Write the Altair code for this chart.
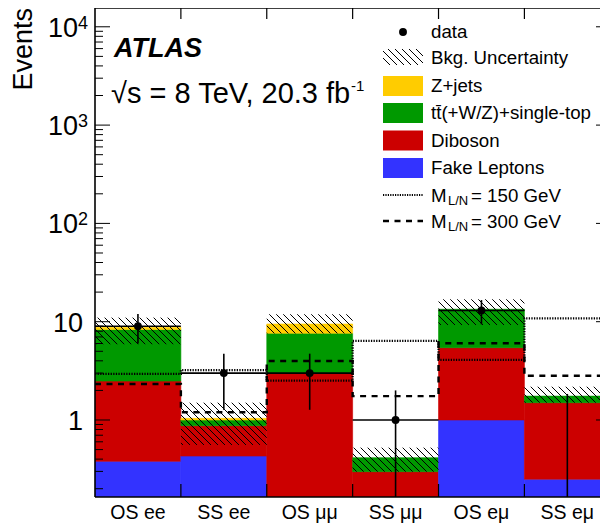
import altair as alt
import pandas as pd
import numpy as np

# ---------------- data ----------------
bins = ["OS ee", "SS ee", "OS μμ", "SS μμ", "OS eμ", "SS eμ"]
fake = [0.38, 0.43, 0.0, 0.0, 1.0, 0.25]
diboson = [2.11, 0.445, 2.98, 0.298, 4.44, 1.25]
ttbar = [5.85, 0.125, 4.64, 0.116, 7.96, 0.25]
zjets = [0.45, 0.04, 1.86, 0.0, 0.0, 0.0]
unc_lo = [5.9, 0.557, 7.6, 0.298, 9.25, 1.5]
unc_hi = [11.0, 1.5, 11.9, 0.523, 16.9, 2.18]
data = [9, 3, 3, 1, 13, 0]
data_err_up = [3.0, 1.73, 1.73, 1.0, 3.6, 1.84]
data_err_dn = [3.0, 1.73, 1.73, 1.0, 3.6, 0.0]
sig150 = [2.94, 3.22, 2.51, 6.37, 4.08, 10.8]
sig300 = [2.32, 1.2, 3.98, 1.75, 6.03, 2.82]

comp_names = ["Fake Leptons", "Diboson", "tt̄(+W/Z)+single-top", "Z+jets"]
comp_colors = ["#3333ff", "#cc0000", "#009900", "#ffcc00"]
comp_vals = [fake, diboson, ttbar, zjets]

# ---------------- geometry ----------------
W, H = 505, 489
BINPX = 85.88
XMAX = W / BINPX                    # the last bin runs past the right edge, as in the original
YMIN, YMAX = 0.1647, 15530.0
FONT = "Liberation Sans"
ppd = H / np.log10(YMAX / YMIN)     # pixels per decade
bw = BINPX

xs = alt.Scale(domain=[0, XMAX], nice=False, zero=False)
ys = alt.Scale(type="log", domain=[YMIN, YMAX], nice=False)

# ---------------- stacked histogram ----------------
rows = []
for i in range(6):
    cum = 0.0
    for name, vals in zip(comp_names, comp_vals):
        lo = cum
        cum += vals[i]
        if vals[i] > 0:
            rows.append(dict(x0=i, x1=i + 1, y0=max(lo, YMIN), y1=cum, comp=name))
stack_df = pd.DataFrame(rows)
cscale = alt.Scale(domain=comp_names, range=comp_colors)
stack = alt.Chart(stack_df).mark_rect(strokeWidth=0.6, clip=True).encode(
    x=alt.X("x0:Q", scale=xs, axis=None),
    x2="x1:Q",
    y=alt.Y("y0:Q", scale=ys, axis=None),
    y2="y1:Q",
    color=alt.Color("comp:N", scale=cscale, legend=None),
    stroke=alt.Stroke("comp:N", scale=cscale, legend=None),
)

# ---------------- hatched uncertainty band ----------------
SP = 7.0
hrows = []
for i in range(6):
    u0, u1 = i * bw, (i + 1) * bw
    v0 = np.log10(unc_lo[i] / YMIN) * ppd
    v1 = np.log10(unc_hi[i] / YMIN) * ppd
    k0 = int(np.ceil((u0 + v0) / SP))
    k1 = int(np.floor((u1 + v1) / SP))
    for k in range(k0, k1 + 1):
        c = k * SP
        ua = max(u0, c - v1)
        ub = min(u1, c - v0)
        if ub > ua:
            hrows.append(dict(
                xa=ua / bw, xb=ub / bw,
                ya=YMIN * 10 ** ((c - ua) / ppd), yb=YMIN * 10 ** ((c - ub) / ppd)))
hatch_df = pd.DataFrame(hrows)
hatch = alt.Chart(hatch_df).mark_rule(color="black", strokeWidth=1, clip=True).encode(
    x=alt.X("xa:Q", scale=xs), x2="xb:Q",
    y=alt.Y("ya:Q", scale=ys), y2="yb:Q",
)

# ---------------- signal step lines ----------------
def step_df(vals):
    return pd.DataFrame({"x": list(range(7)), "y": list(vals) + [vals[-1]]})

sig1 = alt.Chart(step_df(sig150)).mark_line(
    interpolate="step-after", color="black", strokeWidth=2.2, strokeDash=[1.3, 1.3], clip=True
).encode(x=alt.X("x:Q", scale=xs), y=alt.Y("y:Q", scale=ys))
sig2 = alt.Chart(step_df(sig300)).mark_line(
    interpolate="step-after", color="black", strokeWidth=2.4, strokeDash=[6, 5.5], clip=True
).encode(x=alt.X("x:Q", scale=xs), y=alt.Y("y:Q", scale=ys))

# ---------------- data ----------------
d_df = pd.DataFrame({
    "xc": [i + 0.5 for i in range(6)],
    "x0": list(range(6)), "x1": [i + 1 for i in range(6)],
    "n": data,
    "lo": [max(n - e, YMIN) for n, e in zip(data, data_err_dn)],
    "hi": [n + e for n, e in zip(data, data_err_up)],
})
d_pos = d_df[d_df["n"] > 0]
d_vbar = alt.Chart(d_df).mark_rule(color="black", strokeWidth=1.6, clip=True).encode(
    x=alt.X("xc:Q", scale=xs), y=alt.Y("lo:Q", scale=ys), y2="hi:Q")
d_hbar = alt.Chart(d_pos).mark_rule(color="black", strokeWidth=1.6, clip=True).encode(
    x=alt.X("x0:Q", scale=xs), x2="x1:Q", y=alt.Y("n:Q", scale=ys))
d_pt = alt.Chart(d_pos).mark_circle(color="black", opacity=1, size=62).encode(
    x=alt.X("xc:Q", scale=xs), y=alt.Y("n:Q", scale=ys))

# ---------------- frame and axis ticks (inward, ROOT style) ----------------
frame_l = alt.Chart(pd.DataFrame({"a": [0]})).mark_rule(color="black", strokeWidth=1.6).encode(
    x=alt.value(0), y=alt.value(0), y2=alt.value(H))
frame_t = alt.Chart(pd.DataFrame({"a": [0]})).mark_rule(color="black", strokeWidth=1.6).encode(
    x=alt.value(0), x2=alt.value(W), y=alt.value(0))
frame_b = alt.Chart(pd.DataFrame({"a": [0]})).mark_rule(color="black", strokeWidth=1.6).encode(
    x=alt.value(0), x2=alt.value(W), y=alt.value(H))

majors = [1, 10, 100, 1000, 10000]
minors = [m * 10.0 ** e for e in range(-1, 5) for m in range(2, 10)
          if YMIN <= m * 10.0 ** e <= YMAX]
maj_df = pd.DataFrame({"v": majors})
min_df = pd.DataFrame({"v": minors})
tick_l_maj = alt.Chart(maj_df).mark_rule(color="black", strokeWidth=1).encode(
    y=alt.Y("v:Q", scale=ys), x=alt.value(0), x2=alt.value(15))
tick_l_min = alt.Chart(min_df).mark_rule(color="black", strokeWidth=1).encode(
    y=alt.Y("v:Q", scale=ys), x=alt.value(0), x2=alt.value(8))
tick_r_maj = alt.Chart(maj_df).mark_rule(color="black", strokeWidth=1).encode(
    y=alt.Y("v:Q", scale=ys), x=alt.value(W - 4), x2=alt.value(W))
edge_df = pd.DataFrame({"b": [1, 2, 3, 4, 5]})
tick_b = alt.Chart(edge_df).mark_rule(color="black", strokeWidth=1.2).encode(
    x=alt.X("b:Q", scale=xs), y=alt.value(H), y2=alt.value(H - 13))
tick_t = alt.Chart(edge_df).mark_rule(color="black", strokeWidth=1.2).encode(
    x=alt.X("b:Q", scale=xs), y=alt.value(0), y2=alt.value(11))

# ---------------- tick labels ----------------
ylab_df = pd.DataFrame({"v": majors, "t": ["1", "10", "10", "10", "10"],
                        "e": ["", "", "2", "3", "4"]})
ylab_plain = alt.Chart(ylab_df[ylab_df["e"] == ""]).mark_text(
    font=FONT, fontSize=27, align="right", baseline="middle", dy=2, color="black"
).encode(y=alt.Y("v:Q", scale=ys), x=alt.value(-12), text="t:N")
ylab_base = alt.Chart(ylab_df[ylab_df["e"] != ""]).mark_text(
    font=FONT, fontSize=27, align="right", baseline="middle", dy=2, color="black"
).encode(y=alt.Y("v:Q", scale=ys), x=alt.value(-17), text="t:N")
ylab_exp = alt.Chart(ylab_df[ylab_df["e"] != ""]).mark_text(
    font=FONT, fontSize=18, align="left", baseline="alphabetic", dy=2, color="black"
).encode(y=alt.Y("v:Q", scale=ys), x=alt.value(-17), text="e:N")

xlab_df = pd.DataFrame({"xc": [i + 0.5 for i in range(6)], "t": bins})
xlab = alt.Chart(xlab_df).mark_text(
    font=FONT, fontSize=19.5, align="center", baseline="middle", color="black"
).encode(x=alt.X("xc:Q", scale=xs), y=alt.value(H + 16), text="t:N")

ytitle = alt.Chart(pd.DataFrame({"t": ["Events"]})).mark_text(
    font=FONT, fontSize=27, angle=270, align="right", baseline="alphabetic", color="black"
).encode(x=alt.value(-63), y=alt.value(0), text="t:N")

# ---------------- ATLAS label ----------------
atlas = alt.Chart(pd.DataFrame({"t": ["ATLAS"]})).mark_text(
    font=FONT, fontSize=27, fontStyle="italic", fontWeight="bold",
    align="left", baseline="alphabetic", color="black"
).encode(x=alt.value(19), y=alt.value(49), text="t:N")
lumi = alt.Chart(pd.DataFrame({"t": ["√s = 8 TeV, 20.3 fb"]})).mark_text(
    font=FONT, fontSize=29, align="left", baseline="alphabetic", color="black"
).encode(x=alt.value(16), y=alt.value(95), text="t:N")
lumi_exp = alt.Chart(pd.DataFrame({"t": ["-1"]})).mark_text(
    font=FONT, fontSize=15, align="left", baseline="alphabetic", color="black"
).encode(x=alt.value(256), y=alt.value(83), text="t:N")

# ---------------- legend ----------------
LX0, LX1, TX = 288, 328, 336
row_y = [24, 50, 78, 105, 132.5, 160, 188, 214]
LFS = 18.7
leg_text = pd.DataFrame({
    "x": [TX] * 6, "y": row_y[:6],
    "t": ["data", "Bkg. Uncertainty", "Z+jets", "tt̄(+W/Z)+single-top", "Diboson", "Fake Leptons"],
})
leg_txt = alt.Chart(leg_text).mark_text(
    font=FONT, fontSize=LFS, align="left", baseline="middle", color="black"
).encode(x=alt.X("x:Q", scale=None), y=alt.Y("y:Q", scale=None), text="t:N")

msub = pd.DataFrame({"x": [TX, TX, TX + 17, TX + 17, TX + 40, TX + 40],
                     "y": [row_y[6], row_y[7], row_y[6] + 5, row_y[7] + 5, row_y[6], row_y[7]],
                     "t": ["M", "M", "L/N", "L/N", "= 150 GeV", "= 300 GeV"],
                     "fs": [LFS, LFS, 13, 13, LFS, LFS]})
leg_m = alt.Chart(msub).mark_text(
    font=FONT, align="left", baseline="middle", color="black"
).encode(x=alt.X("x:Q", scale=None), y=alt.Y("y:Q", scale=None), text="t:N",
         size=alt.Size("fs:Q", scale=None, legend=None))

sw = pd.DataFrame({"x0": [LX0] * 4, "x1": [LX1] * 4,
                   "y0": [y - 10 for y in row_y[2:6]], "y1": [y + 10 for y in row_y[2:6]],
                   "comp": ["Z+jets", "tt̄(+W/Z)+single-top", "Diboson", "Fake Leptons"]})
leg_sw = alt.Chart(sw).mark_rect().encode(
    x=alt.X("x0:Q", scale=None), x2="x1:Q", y=alt.Y("y0:Q", scale=None), y2="y1:Q",
    color=alt.Color("comp:N", scale=cscale, legend=None))

# hatch swatch in screen coordinates (lines x - y = c)
hy0, hy1 = 41, 57
lh = []
k0 = int(np.ceil((LX0 - hy1) / SP))
k1 = int(np.floor((LX1 - hy0) / SP))
for k in range(k0, k1 + 1):
    c = k * SP
    xa = max(LX0, c + hy0)
    xb = min(LX1, c + hy1)
    if xb > xa:
        lh.append(dict(xa=xa, xb=xb, ya=xa - c, yb=xb - c))
leg_hatch = alt.Chart(pd.DataFrame(lh)).mark_rule(color="black", strokeWidth=1).encode(
    x=alt.X("xa:Q", scale=None), x2="xb:Q", y=alt.Y("ya:Q", scale=None), y2="yb:Q")

leg_dot = alt.Chart(pd.DataFrame({"x": [LX0 + 20], "y": [row_y[0]]})).mark_circle(
    color="black", opacity=1, size=62).encode(
    x=alt.X("x:Q", scale=None), y=alt.Y("y:Q", scale=None))

leg_l150 = alt.Chart(pd.DataFrame({"x": [LX0], "x2": [LX1], "y": [row_y[6] - 1]})).mark_rule(
    color="black", strokeWidth=2.0, strokeDash=[1.2, 1.2]).encode(
    x=alt.X("x:Q", scale=None), x2="x2:Q", y=alt.Y("y:Q", scale=None))
leg_l300 = alt.Chart(pd.DataFrame({"x": [LX0], "x2": [LX1], "y": [row_y[7] - 1]})).mark_rule(
    color="black", strokeWidth=2.4, strokeDash=[6, 5.5]).encode(
    x=alt.X("x:Q", scale=None), x2="x2:Q", y=alt.Y("y:Q", scale=None))

chart = alt.layer(
    stack, hatch, sig1, sig2, d_vbar, d_hbar, d_pt,
    frame_l, frame_t, frame_b,
    tick_l_maj, tick_l_min, tick_r_maj, tick_b, tick_t,
    ylab_plain, ylab_base, ylab_exp, xlab, ytitle, atlas, lumi, lumi_exp,
    leg_sw, leg_hatch, leg_dot, leg_l150, leg_l300, leg_txt, leg_m,
).properties(
    width=W, height=H,
    padding={"left": 87, "top": 0, "right": 0, "bottom": 26},
    autosize=alt.AutoSizeParams(type="none"),
    background="white",
).configure_view(strokeWidth=0)

chart.save("out.html", embed_options={"renderer": "svg", "actions": False})
